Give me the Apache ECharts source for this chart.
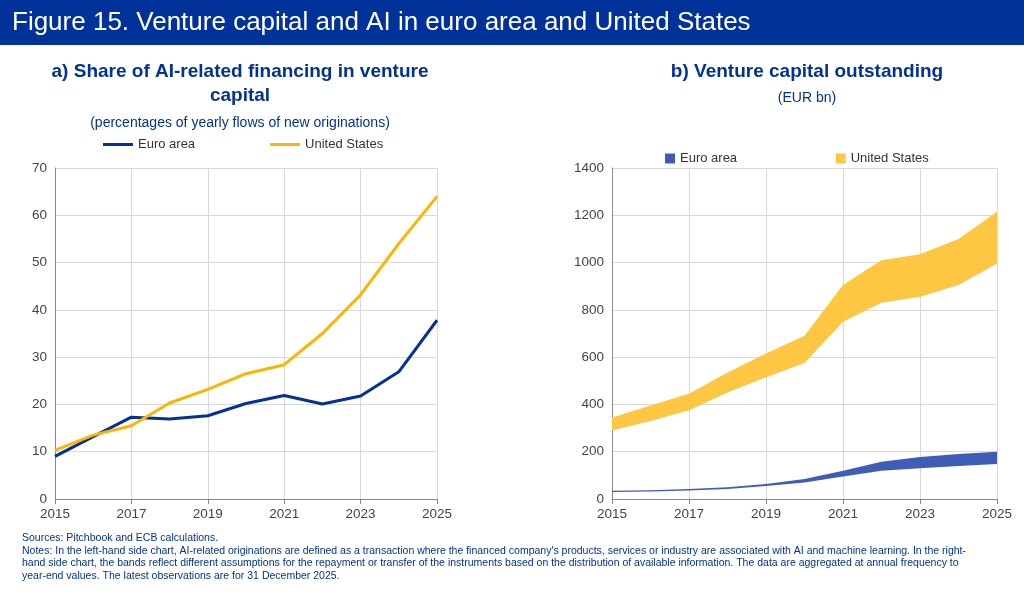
<!DOCTYPE html>
<html><head><meta charset="utf-8">
<script src="https://cdn.jsdelivr.net/npm/echarts@6/dist/echarts.min.js"></script>
<style>body{margin:0;background:#fff}#c{width:1024px;height:599px}</style>
</head><body><div id="c"></div>
<script>
var years = ['2015','2016','2017','2018','2019','2020','2021','2022','2023','2024','2025'];
var euroShare = [9, 13.2, 17.3, 16.9, 17.6, 20.2, 21.9, 20.1, 21.8, 26.9, 37.8];
var usShare = [10.3, 13.5, 15.5, 20.3, 23.2, 26.5, 28.4, 35, 43.2, 54, 64];
var usLow = [290, 330, 375, 450, 515, 575, 750, 830, 855, 905, 995];
var usHigh = [345, 395, 445, 535, 615, 690, 905, 1010, 1035, 1100, 1215];
var euLow = [30, 32, 36, 42, 55, 70, 95, 120, 130, 140, 148];
var euHigh = [35, 37, 42, 50, 63, 85, 120, 158, 178, 190, 200];

function diff(a, b) { return a.map(function (v, i) { return v - b[i]; }); }

var blue = '#003299', gold = '#FFB400', bandBlue = '#3F5DB6', bandGold = '#FDC643';
var font = 'Arial, "Liberation Sans", sans-serif';
var axisLabel = { color: '#444', fontSize: 13.5, fontFamily: font };
var xAx = function (g) {
    return { gridIndex: g, type: 'category', data: years, boundaryGap: false,
        axisLine: { lineStyle: { color: '#888' } }, axisTick: { show: true, interval: 1, lineStyle: { color: '#888' } },
        axisLabel: Object.assign({ interval: 1 }, axisLabel),
        splitLine: { show: true, interval: 1, lineStyle: { color: '#d9d9d9' } } };
};
var yAx = function (g, max, step) {
    return { gridIndex: g, type: 'value', min: 0, max: max, interval: step,
        axisLine: { show: true, lineStyle: { color: '#888' } }, axisTick: { show: false },
        axisLabel: Object.assign({ formatter: function (v) { return String(v); } }, axisLabel),
        splitLine: { lineStyle: { color: '#d9d9d9' } } };
};
function txt(x, y, text, f, align) {
    return { type: 'text', x: x, y: y, style: { text: text, fill: blue, font: f, textAlign: align || 'center', lineHeight: 24 } };
}

var chart = echarts.init(document.getElementById('c'));
chart.setOption({
    animation: false,
    textStyle: { fontFamily: font },
    graphic: [
        { type: 'rect', shape: { x: 0, y: 0, width: 1024, height: 45 }, style: { fill: blue } },
        { type: 'text', x: 12, y: 10, style: { text: 'Figure 15. Venture capital and AI in euro area and United States', fill: '#fff', font: '26px ' + font } },
        txt(240, 60, 'a) Share of AI-related financing in venture\ncapital', 'bold 19px ' + font),
        txt(240, 111, '(percentages of yearly flows of new originations)', '14px ' + font),
        txt(807, 60, 'b) Venture capital outstanding', 'bold 19px ' + font),
        txt(807, 86, '(EUR bn)', '14px ' + font),
        { type: 'text', x: 22, y: 532, style: { text: 'Sources: Pitchbook and ECB calculations.\nNotes: In the left-hand side chart, AI-related originations are defined as a transaction where the financed company\'s products, services or industry are associated with AI and machine learning. In the right-\nhand side chart, the bands reflect different assumptions for the repayment or transfer of the instruments based on the distribution of available information. The data are aggregated at annual frequency to\nyear-end values. The latest observations are for 31 December 2025.', fill: blue, font: '10.5px ' + font, lineHeight: 12.5 } }
    ],
    legend: [
        { left: 98, top: 133, itemWidth: 30, itemHeight: 3, itemGap: 75, icon: 'rect', textStyle: { color: '#333', fontSize: 13 },
          data: ['Euro area', 'United States'] },
        { left: 660, top: 147, itemWidth: 10, itemHeight: 10, itemGap: 95, icon: 'rect', textStyle: { color: '#333', fontSize: 13 },
          data: [{ name: 'Euro area ', itemStyle: { color: bandBlue } }, { name: 'United States ', itemStyle: { color: bandGold } }] }
    ],
    grid: [
        { left: 55, top: 168, width: 382, height: 331 },
        { left: 612, top: 168, width: 385, height: 331 }
    ],
    xAxis: [xAx(0), xAx(1)],
    yAxis: [yAx(0, 70, 10), yAx(1, 1400, 200)],
    series: [
        { name: 'Euro area', type: 'line', data: euroShare, symbol: 'none', lineStyle: { color: blue, width: 3 }, itemStyle: { color: blue } },
        { name: 'United States', type: 'line', data: usShare, symbol: 'none', lineStyle: { color: gold, width: 3 }, itemStyle: { color: gold } },
        { type: 'line', xAxisIndex: 1, yAxisIndex: 1, stack: 'us', data: usLow, symbol: 'none', lineStyle: { width: 0 }, areaStyle: { opacity: 0 } },
        { name: 'United States ', type: 'line', xAxisIndex: 1, yAxisIndex: 1, stack: 'us', data: diff(usHigh, usLow), symbol: 'none', lineStyle: { width: 0 }, itemStyle: { color: bandGold }, areaStyle: { color: bandGold, opacity: 1 } },
        { type: 'line', xAxisIndex: 1, yAxisIndex: 1, stack: 'eu', data: euLow, symbol: 'none', lineStyle: { width: 0 }, areaStyle: { opacity: 0 } },
        { name: 'Euro area ', type: 'line', xAxisIndex: 1, yAxisIndex: 1, stack: 'eu', data: diff(euHigh, euLow), symbol: 'none', lineStyle: { width: 0 }, itemStyle: { color: bandBlue }, areaStyle: { color: bandBlue, opacity: 1 } }
    ]
});
</script></body></html>
